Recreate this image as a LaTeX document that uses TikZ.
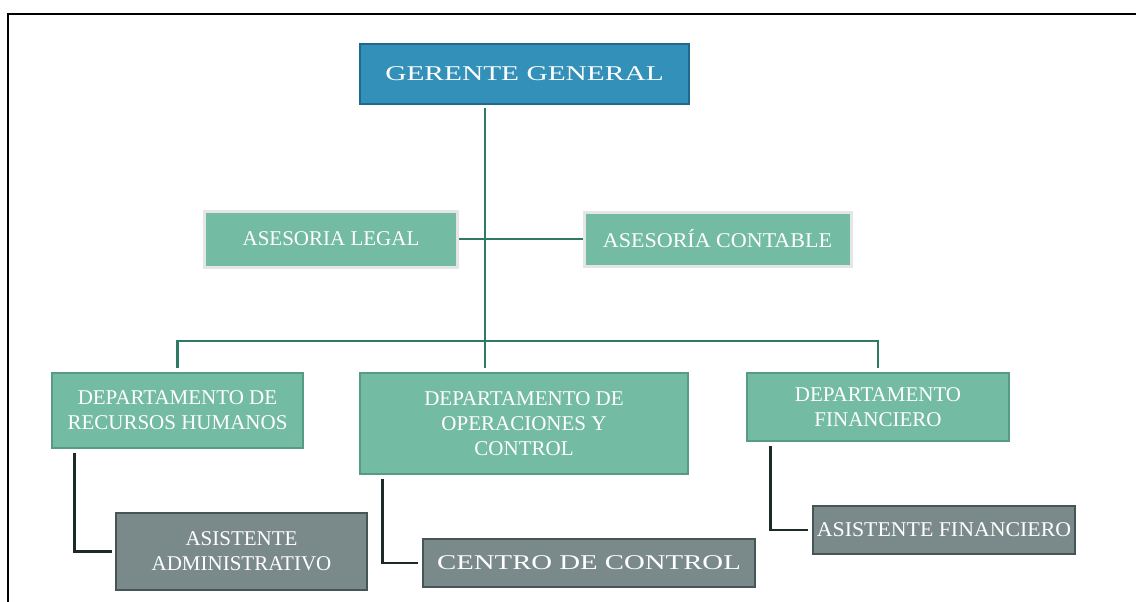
\documentclass[tikz,border=0pt]{standalone}
\usepackage{fontspec}
\setmainfont{Liberation Serif}
\usepackage{graphicx}
\usepackage{tikz}
\usetikzlibrary{positioning}
\definecolor{jefe}{RGB}{51,145,185}
\definecolor{jefeborde}{RGB}{30,105,140}
\definecolor{area}{RGB}{116,187,163}
\definecolor{areaborde}{RGB}{88,155,132}
\definecolor{asist}{RGB}{122,138,138}
\definecolor{asistborde}{RGB}{70,86,86}
\definecolor{linea}{RGB}{47,122,100}
\definecolor{lineaosc}{RGB}{28,42,42}
\newcommand{\ancho}[2]{\scalebox{#1}[1]{#2}}

\begin{document}
\begin{tikzpicture}[
      x=1pt,y=-1pt,
      caja/.style={rectangle,inner sep=0pt,align=center,text=white,
        font=\fontsize{21}{25}\selectfont},
      gerencia/.style={caja,fill=jefe,draw=jefeborde,line width=1.2pt},
      asesor/.style={caja,fill=area,draw=black!10,line width=3pt},
      depto/.style={caja,fill=area,draw=areaborde,line width=1.2pt},
      asistente/.style={caja,fill=asist,draw=asistborde,line width=1.2pt},
      rama/.style={linea,line width=2.2pt},
      sub/.style={lineaosc,line width=2.6pt}
      ]
      \useasboundingbox (0,0) rectangle (1136,602);
      \draw[line width=2pt] (8,602) -- (8,14) -- (1136,14);

      \node[gerencia,minimum width=329,minimum height=60] (gerente) at (524.5,74) {\ancho{1.4}{GERENTE GENERAL}};
      \node[asesor,minimum width=253,minimum height=56] (legal) at (331,239) {ASESORIA LEGAL};
      \node[asesor,minimum width=267,minimum height=54] (contable) at (717.5,239) {\ancho{1.05}{ASESORÍA CONTABLE}};

      \node[depto,minimum width=251,minimum height=75] (rrhh) at (177.5,410.5) {DEPARTAMENTO DE\\RECURSOS HUMANOS};
      \node[depto,minimum width=328,minimum height=101] (oper) at (524,423.5) {DEPARTAMENTO DE\\OPERACIONES Y\\CONTROL};
      \node[depto,minimum width=262,minimum height=68] (fin) at (878,407) {DEPARTAMENTO\\FINANCIERO};

      \node[asistente,minimum width=251,minimum height=77] (asadm) at (241.5,551.5) {ASISTENTE\\ADMINISTRATIVO};
      \node[asistente,minimum width=332,minimum height=48] (centro) at (589,563) {\ancho{1.37}{CENTRO DE CONTROL}};
      \node[asistente,minimum width=262,minimum height=48] (asfin) at (944,530) {\ancho{1.04}{ASISTENTE FINANCIERO}};

      \coordinate (bar) at (485,341);
      \coordinate (arriba) at (gerente.south -| bar);
      \coordinate (abajo) at (oper.north -| bar);
      \draw[rama] ([yshift=-3pt]arriba) -- ([yshift=4pt]abajo);
      \draw[rama] (legal.east) -- (contable.west);
      \draw[rama] ([yshift=4pt]rrhh.north) |- (bar) -| ([yshift=4pt]fin.north);

      \draw[sub] ([xshift=23pt,yshift=-4pt]rrhh.south west) |- ([xshift=-3pt]asadm.west);
      \draw[sub] ([xshift=23pt,yshift=-4pt]oper.south west) |- ([xshift=-4pt]centro.west);
      \draw[sub] ([xshift=24pt,yshift=-4pt]fin.south west) |- ([xshift=-4pt]asfin.west);
    \end{tikzpicture}
\end{document}
